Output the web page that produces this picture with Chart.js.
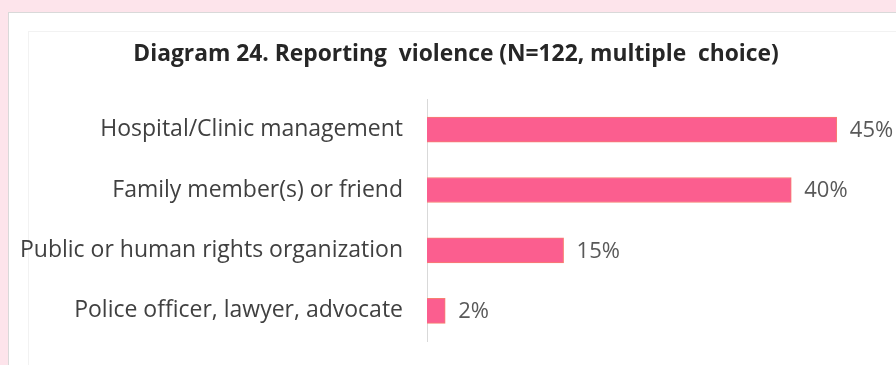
<!DOCTYPE html>
<html>
<head>
<meta charset="utf-8">
<script src="https://cdn.jsdelivr.net/npm/chart.js@4/dist/chart.umd.min.js"></script>
<style>
  html, body { margin: 0; padding: 0; }
  body { width: 896px; height: 365px; background: #fde4eb; position: relative; overflow: hidden; }
  .panel { position: absolute; left: 8px; top: 12px; width: 900px; height: 360px; background: #fff;
           border-left: 1px solid #d9d9d9; border-top: 1px solid #d9d9d9; }
  .inner { position: absolute; left: 28px; top: 31px; width: 880px; height: 340px;
           border-left: 1px solid #f2f2f2; border-top: 1px solid #f2f2f2; }
  #wrap { position: absolute; left: 0; top: 0; width: 896px; height: 365px; }
</style>
</head>
<body>
<div class="panel"></div>
<div class="inner"></div>
<div id="wrap"><canvas id="reportChart"></canvas></div>
<script>
const categories = [
  'Hospital/Clinic management',
  'Family member(s) or friend',
  'Public or human rights organization',
  'Police officer, lawyer, advocate'
];
const shares = [45, 40, 15, 2];
const titleText = 'Diagram 24. Reporting  violence (N=122, multiple  choice)';

// percentage labels to the right of each bar
const valueLabels = {
  id: 'valueLabels',
  afterDatasetsDraw(chart) {
    const ctx = chart.ctx;
    const meta = chart.getDatasetMeta(0);
    ctx.save();
    ctx.font = '22px "Open Sans", sans-serif';
    ctx.fillStyle = '#595959';
    ctx.textAlign = 'left';
    ctx.textBaseline = 'middle';
    meta.data.forEach((bar, i) => {
      ctx.fillText(shares[i] + '%', bar.x + 13, bar.y + 1);
    });
    ctx.restore();
  }
};

new Chart(document.getElementById('reportChart'), {
  type: 'bar',
  data: {
    labels: categories,
    datasets: [{
      data: shares,
      backgroundColor: '#fb5e8f',
      borderColor: '#f7806f',
      borderWidth: 1,
      borderSkipped: 'left',
      barThickness: 25
    }]
  },
  options: {
    indexAxis: 'y',
    responsive: true,
    maintainAspectRatio: false,
    animation: false,
    layout: { padding: { left: 16, right: 0, top: 0, bottom: 24 } },
    plugins: {
      legend: { display: false },
      tooltip: { enabled: false },
      title: {
        display: true,
        text: titleText,
        color: '#262626',
        font: { family: '"Open Sans", sans-serif', size: 22.8, weight: 'bold' },
        padding: { top: 41, bottom: 31 }
      }
    },
    scales: {
      x: { display: false, min: 0, max: 51.5 },
      y: {
        afterFit(scale) {
          scale.width = 411;
          scale.paddingTop = 0;
          scale.paddingBottom = 0;
        },
        grid: { display: false, drawTicks: false },
        border: { display: true, color: '#d9d9d9', width: 1 },
        ticks: {
          padding: 24,
          color: '#404040',
          font: { family: '"Open Sans", sans-serif', size: 23 }
        }
      }
    }
  },
  plugins: [valueLabels]
});
</script>
</body>
</html>
